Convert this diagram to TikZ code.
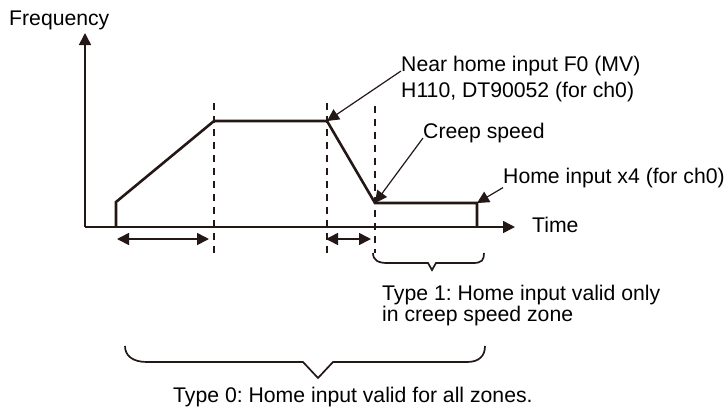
\documentclass[tikz,border=0pt]{standalone}
\usepackage{fontspec}
\setmainfont{Liberation Sans}
\usetikzlibrary{arrows.meta, positioning}
\definecolor{ink}{RGB}{35,24,21}
\frenchspacing

\begin{document}
\begin{tikzpicture}[x=1pt, y=-1pt, >={Triangle[length=12pt,width=12pt]},
  lbl/.style={inner sep=0pt, anchor=base west, font=\fontsize{21.2}{25}\selectfont},
  axis/.style={draw=ink, line width=1.6pt},
  curve/.style={draw=ink, line width=2.6pt, line join=miter},
  zone/.style={draw=ink, line width=1.2pt, dash pattern=on 7pt off 6pt},
  lead/.style={draw=ink, line width=1.2pt},
  brc/.style={draw=ink, line width=1.7pt}]

\useasboundingbox (0,0) rectangle (728,408);

% axes
\coordinate (o) at (85,227);
\coordinate (ytip) at (85,33);
\coordinate (xtip) at (515,227);
\draw[axis, ->] (o) -- (ytip);
\draw[axis, ->] (o) -- (xtip);
\node[lbl] (freq) at (9,25) {Frequency};
\node[lbl] (time) at (532,232) {Time};

% speed profile
\coordinate (p0) at (116,227);
\coordinate (p1) at (116,202);
\coordinate (p2) at (214,121);
\coordinate (p3) at (327,121);
\coordinate (p4) at (375,203);
\coordinate (p5) at (477,203);
\coordinate (p6) at (477,227);
\draw[curve] (p0) -- (p1) -- (p2) -- (p3) -- (p4) -- (p5) -- (p6);

% zone borders
\draw[zone] (214,103) -- (214,258);
\draw[zone] (327,103) -- (327,258);
\draw[zone] (375,106) -- (375,253);

% accel / decel zones
\coordinate (acc1) at (117,239);
\coordinate (acc2) at (209,239);
\coordinate (dec1) at (326,239);
\coordinate (dec2) at (371,239);
\draw[axis, <->] (acc1) -- (acc2);
\draw[axis, <->] (dec1) -- (dec2);

% labels
\node[lbl] (near1) at (401,71) {Near home input F0 (MV)};
\node[lbl] (near2) at (401,97) {H110, DT90052 (for ch0)};
\node[lbl] (creep) at (423,138) {Creep speed};
\node[lbl] (home) at (503,183) {Home input x4 (for ch0)};
\draw[lead, ->] (near1.base west) -- (p3);
\draw[lead, ->] (creep.base west) -- (p4);
\draw[lead, ->] (home.south west) -- (p5);

% type 1
\draw[brc] (373,253) .. controls (373,260) and (378,263) .. (387,263) -- (428,263)
  -- (432,270) -- (436,263) -- (473,263) .. controls (482,263) and (484,260) .. (484,253);
\node[lbl] (type1a) at (382,300) {Type 1: Home input valid only};
\node[lbl] (type1b) at (382,321) {in creep speed zone};

% type 0
\draw[brc] (125,346) .. controls (125,356) and (133,362) .. (147,362) -- (303,362)
  -- (318,378) -- (333,362) -- (467,362) .. controls (479,362) and (485,356) .. (485,346);
\node[lbl] (type0) at (173,402) {Type 0: Home input valid for all zones.};

\end{tikzpicture}
\end{document}
